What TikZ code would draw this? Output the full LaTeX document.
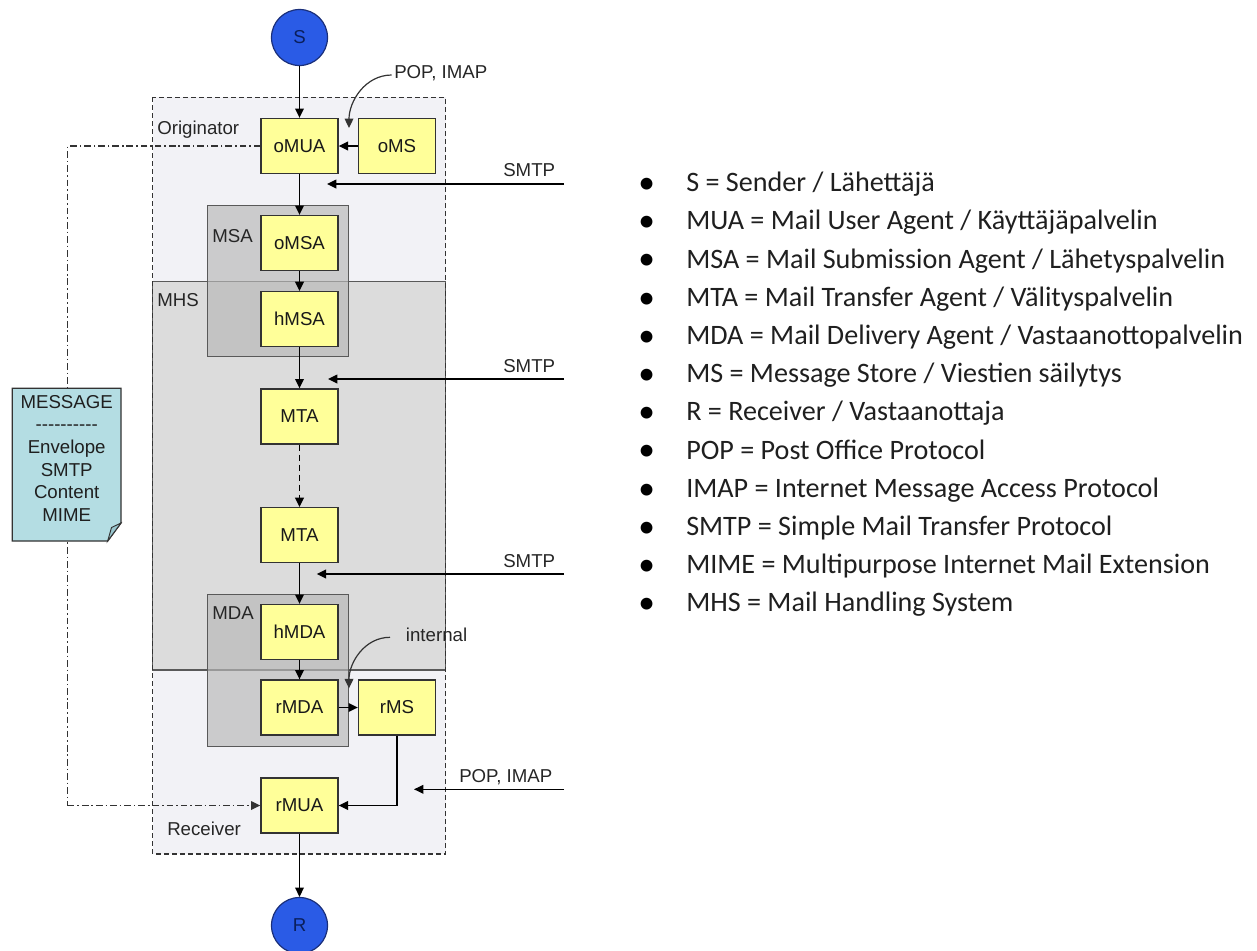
\documentclass[tikz,border=0pt]{standalone}
\usepackage{fontspec}
\newfontfamily\arialf{Liberation Sans}
\newfontfamily\calf{Carlito}
\usetikzlibrary{arrows.meta}
\definecolor{boxyellow}{HTML}{FFFF99}
\definecolor{outerfill}{HTML}{F2F2F6}
\definecolor{mhsfill}{HTML}{DCDCDC}
\definecolor{subfill}{HTML}{B8B8B8}
\definecolor{circfill}{HTML}{2A5BE6}
\definecolor{circdraw}{HTML}{1A2F7A}
\definecolor{circtext}{HTML}{0A1F5C}
\definecolor{notefill}{HTML}{B4DDE3}
\definecolor{flapfill}{HTML}{98C6CE}
\begin{document}
\begin{tikzpicture}[x=0.75pt,y=-0.75pt,
  agent/.style={draw=black!80, fill=boxyellow, line width=1pt, minimum width=57.75pt, minimum height=41.25pt, inner sep=0pt, font=\arialf\fontsize{14}{16}\selectfont, text=black!90},
  endpt/.style={circle, draw=circdraw, fill=circfill, line width=0.9pt, minimum size=42pt, inner sep=0pt, font=\arialf\fontsize{14}{16}\selectfont, text=circtext},
  lbl/.style={inner sep=0pt, anchor=base west, font=\arialf\fontsize{14}{16}\selectfont, text=black!85},
  arr/.style={-{Triangle[length=7pt,width=6.5pt]}, draw=black, line width=1.1pt},
  dasharr/.style={arr, dash pattern=on 4.5pt off 3pt},
  dotdash/.style={draw=black!80, line width=0.9pt, dash pattern=on 5pt off 2.2pt on 1.2pt off 2.2pt},
  region/.style={draw=black!65, line width=1pt},
  leg/.style={inner sep=0pt, anchor=base west, font=\calf\fontsize{21.1}{24}\selectfont, text=black!88},
  bul/.style={inner sep=0pt, anchor=base, font=\calf\fontsize{25}{28}\selectfont, text=black}]
\useasboundingbox (0,0) rectangle (1257,950);

% regions
\fill[outerfill] (152.7,97.3) rectangle (445.5,854);
\draw[region, fill=mhsfill] (152.7,281.7) rectangle (445.5,670);
\fill[subfill, fill opacity=0.67] (207.7,205.7) rectangle (348.3,356.7);
\draw[region] (207.7,205.7) rectangle (348.3,356.7);
\fill[subfill, fill opacity=0.67] (207.7,594.3) rectangle (348.3,746.7);
\draw[region] (207.7,594.3) rectangle (348.3,746.7);
\draw[draw=black!80, line width=1pt, dash pattern=on 3.5pt off 2.5pt] (152.7,97.3) rectangle (445.5,854);

% region labels
\node[lbl] (lorig) at (157,134.6) {Originator};
\node[lbl] (lmhs) at (157,306.6) {MHS};
\node[lbl] (lmsa) at (212,242.6) {MSA};
\node[lbl] (lmda) at (212,619.6) {MDA};
\node[lbl] (lrecv) at (167,835.6) {Receiver};

% agents
\node[endpt] (S) at (299.5,37.5) {S};
\node[agent] (oMUA) at (299.5,146) {oMUA};
\node[agent] (oMS) at (397,146) {oMS};
\node[agent] (oMSA) at (299.5,243) {oMSA};
\node[agent] (hMSA) at (299.5,319.2) {hMSA};
\node[agent] (MTA1) at (299.5,416.5) {MTA};
\node[agent] (MTA2) at (299.5,535.2) {MTA};
\node[agent] (hMDA) at (299.5,632) {hMDA};
\node[agent] (rMDA) at (299.5,707.5) {rMDA};
\node[agent] (rMS) at (397,707.5) {rMS};
\node[agent] (rMUA) at (299.5,805.5) {rMUA};
\node[endpt] (R) at (299.5,925.5) {R};

% flow
\draw[arr] (S) -- (oMUA);
\draw[arr] (oMS) -- (oMUA);
\draw[arr] (oMUA) -- (oMSA);
\draw[arr] (oMSA) -- (hMSA);
\draw[arr] (hMSA) -- (MTA1);
\draw[dasharr] (MTA1) -- (MTA2);
\draw[arr] (MTA2) -- (hMDA);
\draw[arr] (hMDA) -- (rMDA);
\draw[arr] (rMDA) -- (rMS);
\draw[arr] (rMS.south) |- (rMUA.east);
\draw[arr] (rMUA) -- (R);

% protocol labels and arrows
\node[lbl] (pop1) at (394,78.6) {POP, IMAP};
\coordinate (pop1s) at (391.7,75);
\coordinate (pop1e) at (349,128);
\draw[arr, line width=0.9pt, draw=black!80] (pop1s) to[out=180,in=90] (pop1e);

\node[lbl] (smtp1) at (503,176.6) {SMTP};
\coordinate (smtp1s) at (564,184);
\coordinate (smtp1e) at (327,184);
\draw[arr] (smtp1s) -- (smtp1e);

\node[lbl] (smtp2) at (503,372) {SMTP};
\coordinate (smtp2s) at (564,379);
\coordinate (smtp2e) at (328,379);
\draw[arr] (smtp2s) -- (smtp2e);

\node[lbl] (smtp3) at (503,567) {SMTP};
\coordinate (smtp3s) at (564,574);
\coordinate (smtp3e) at (316.7,574);
\draw[arr] (smtp3s) -- (smtp3e);

\node[lbl] (intl) at (405.7,641) {internal};
\coordinate (ints) at (390,637.3);
\coordinate (inte) at (349,688.3);
\draw[arr, line width=0.9pt, draw=black!80] (ints) to[out=180,in=90] (inte);

\node[lbl] (pop2) at (459,782.6) {POP, IMAP};
\coordinate (pop2s) at (564,789.3);
\coordinate (pop2e) at (414,789.3);
\draw[arr] (pop2s) -- (pop2e);

% message path
\coordinate (dl1) at (67.7,146);
\coordinate (dl2) at (67.7,805.5);
\draw[dotdash] (oMUA.west) -- (dl1) -- (dl2);
\draw[dotdash, -{Triangle[length=7pt,width=6.5pt]}] (dl2) -- (rMUA.west);

% message note
\draw[draw=black!80, line width=1pt, fill=notefill] (12.3,388.3) -- (121,388.3) -- (121,523) -- (107.7,541) -- (12.3,541) -- cycle;
\draw[draw=black!80, line width=0.7pt, fill=flapfill] (121,523) -- (111.5,527.5) -- (107.7,541) -- cycle;
\node[inner sep=0pt, align=center, font=\arialf\fontsize{14}{17}\selectfont, text=black!88] (msg) at (66.7,458.3)
  {MESSAGE\\-{}-{}-{}-{}-{}-{}-{}-{}-{}-\\Envelope\\SMTP\\Content\\MIME};

% legend
\foreach \i/\t in {0/{S = Sender / Lähettäjä},
  1/{MUA = Mail User Agent / Käyttäjäpalvelin},
  2/{MSA = Mail Submission Agent / Lähetyspalvelin},
  3/{MTA = Mail Transfer Agent / Välityspalvelin},
  4/{MDA = Mail Delivery Agent / Vastaanottopalvelin},
  5/{MS = Message Store / Viestien säilytys},
  6/{R = Receiver / Vastaanottaja},
  7/{POP = Post Office Protocol},
  8/{IMAP = Internet Message Access Protocol},
  9/{SMTP = Simple Mail Transfer Protocol},
  10/{MIME = Multipurpose Internet Mail Extension},
  11/{MHS = Mail Handling System}}{
  \node[bul] (b\i) at (646.7,193.5+38.2*\i) {•};
  \node[leg] (t\i) at (686,191.7+38.2*\i) {\t};
}
\end{tikzpicture}
\end{document}
